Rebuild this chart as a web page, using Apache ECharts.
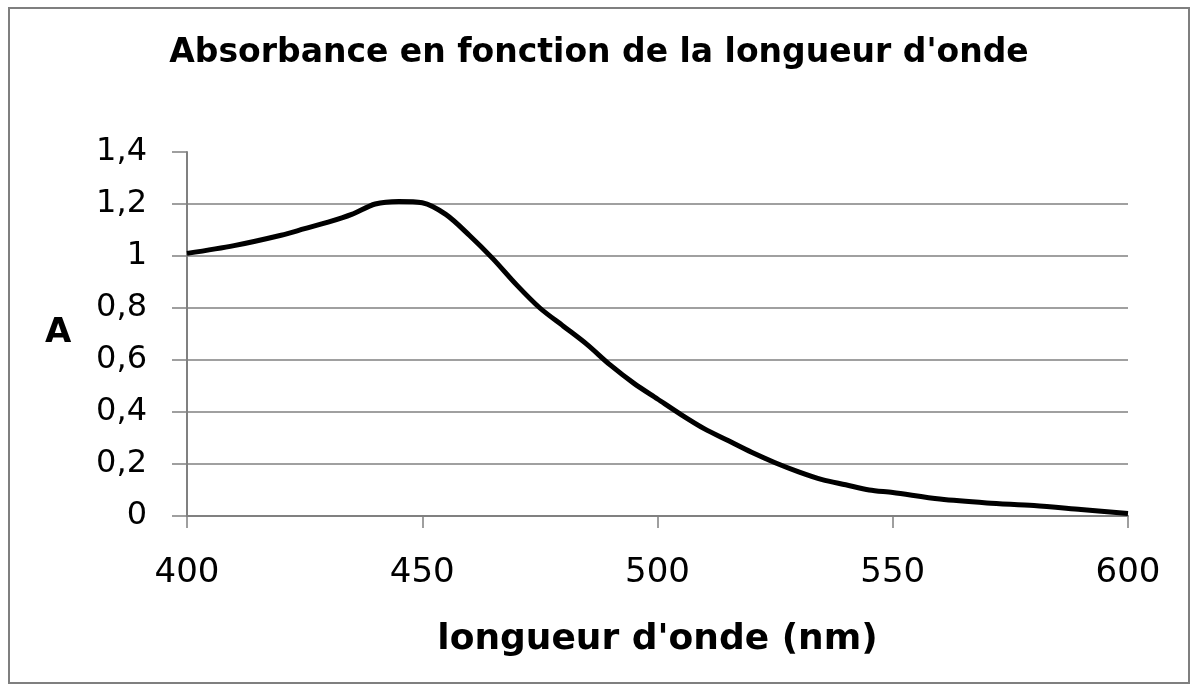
<!DOCTYPE html>
<html>
<head>
<meta charset="utf-8">
<script src="https://cdn.jsdelivr.net/npm/echarts@6/dist/echarts.min.js"></script>
<style>html,body{margin:0;padding:0;background:#fff}#c{width:1198px;height:689px}</style>
</head>
<body>
<div id="c"></div>
<script>
const wavelengths = [400,410,420,425,430,435,440,445,450,455,460,465,470,475,480,485,490,495,500,505,510,515,520,525,530,535,540,545,550,560,570,580,590,600];
const absorbance  = [1.01,1.04,1.08,1.105,1.13,1.16,1.20,1.21,1.205,1.16,1.08,0.99,0.89,0.80,0.73,0.66,0.58,0.51,0.45,0.39,0.335,0.29,0.245,0.205,0.17,0.14,0.12,0.10,0.09,0.065,0.05,0.04,0.025,0.01];
const titleText = "Absorbance en fonction de la longueur d'onde";
const xName = "longueur d'onde (nm)";
const yName = "A";

const chart = echarts.init(document.getElementById('c'), null, {renderer:'canvas'});
const FONT = 'DejaVu Sans';
chart.setOption({
  animation:false,
  backgroundColor:'#fff',
  title:{text:titleText,left:'center',top:32,textStyle:{fontFamily:FONT,fontWeight:'bold',fontSize:33,color:'#000'}},
  graphic:[
    {type:'rect',shape:{x:9,y:8,width:1180,height:675},style:{fill:'none',stroke:'#7f7f7f',lineWidth:2}},
    {type:'text',x:45,y:333,style:{text:yName,fontFamily:FONT,fontWeight:'bold',fontSize:34,fill:'#000',verticalAlign:'middle'}}
  ],
  grid:{left:187,right:70,top:152,bottom:173,containLabel:false},
  xAxis:{type:'value',min:400,max:600,interval:50,
    name:xName,nameLocation:'middle',nameGap:106,
    nameTextStyle:{fontFamily:FONT,fontWeight:'bold',fontSize:36,color:'#000'},
    axisLine:{show:true,lineStyle:{color:'#808080',width:2}},
    axisTick:{show:true,length:12,lineStyle:{color:'#808080',width:1.5}},
    axisLabel:{fontFamily:FONT,fontSize:34,color:'#000',margin:40},
    splitLine:{show:false}},
  yAxis:{type:'value',min:0,max:1.4,interval:0.2,
    axisLine:{show:true,lineStyle:{color:'#808080',width:2}},
    axisTick:{show:true,length:15,lineStyle:{color:'#808080',width:1.5}},
    axisLabel:{fontFamily:FONT,fontSize:32,color:'#000',margin:40,
      formatter:v=>String(Math.round(v*10)/10).replace('.',',')},
    splitLine:{show:true,showMaxLine:false,lineStyle:{color:'#808080',width:1.5}}},
  series:[{type:'line',data:wavelengths.map((w,i)=>[w,absorbance[i]]),smooth:0.3,showSymbol:false,
    lineStyle:{color:'#000',width:5}}]
});
</script>
</body>
</html>
